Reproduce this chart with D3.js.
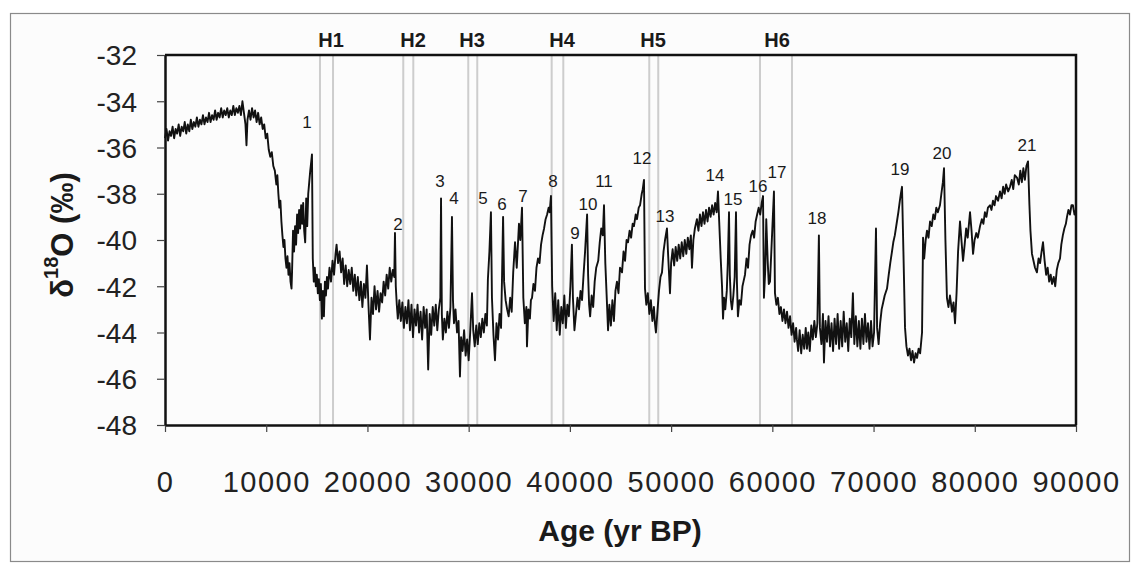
<!DOCTYPE html>
<html>
<head>
<meta charset="utf-8">
<script src="https://cdn.jsdelivr.net/npm/d3@7"></script>
<style>
  html, body { margin: 0; padding: 0; background: #ffffff; }
  svg { display: block; font-family: "Liberation Sans", Arial, sans-serif; }
</style>
</head>
<body>
<svg id="chart" width="1134" height="568"></svg>
<script>
// Axis ticks
const xTicks = [0, 10000, 20000, 30000, 40000, 50000, 60000, 70000, 80000, 90000];
const yTicks = [-32, -34, -36, -38, -40, -42, -44, -46, -48];

// Heinrich events: each drawn as a pair of grey lines (start / end age) and a label
const heinrichNames  = ["H1", "H2", "H3", "H4", "H5", "H6"];
const heinrichStart  = [15310, 23540, 29960, 38200, 47840, 58780];
const heinrichEnd    = [16600, 24530, 30850, 39350, 48730, 61940];
const heinrichLabelAge = [16400, 24500, 30330, 39220, 48210, 60460];

// Interstadial numbers and where they are written (age, δ18O)
const eventNames  = ["1","2","3","4","5","6","7","8","9","10","11","12","13","14","15","16","17","18","19","20","21"];
const eventAges   = [14030, 23020, 27170, 28550, 31410, 33290, 35370, 38330, 40500, 41790, 43370, 47120, 49400, 54330, 56110, 58580, 60460, 64410, 72610, 76760, 85160];
const eventValues = [-34.92, -39.32, -37.45, -38.19, -38.19, -38.45, -38.10, -37.45, -39.72, -38.45, -37.45, -36.49, -38.97, -37.23, -38.23, -37.67, -37.10, -39.06, -36.93, -36.27, -35.92];

// δ18O record: [age (yr BP), δ18O (‰)]
const isotopeRecord = [
  [0,-35.6],[150,-35.2],[300,-35.7],[450,-35.3],[600,-35.5],[750,-35.1],[900,-35.6],[1050,-35.2],[1200,-35.4],[1350,-35.0],
  [1500,-35.5],[1650,-35.1],[1800,-35.3],[1950,-34.9],[2100,-35.4],[2250,-35.0],[2400,-35.3],[2550,-34.8],[2700,-35.2],[2850,-34.9],
  [3000,-35.1],[3150,-34.7],[3300,-35.1],[3450,-34.8],[3600,-35.0],[3750,-34.6],[3900,-35.0],[4050,-34.7],[4200,-34.9],[4350,-34.5],
  [4500,-34.9],[4650,-34.6],[4800,-34.8],[4950,-34.4],[5100,-34.8],[5250,-34.5],[5400,-34.7],[5550,-34.3],[5700,-34.7],[5850,-34.4],
  [6000,-34.6],[6150,-34.3],[6300,-34.7],[6450,-34.4],[6600,-34.6],[6750,-34.2],[6900,-34.6],[7050,-34.3],[7200,-34.5],[7350,-34.2],
  [7500,-34.6],[7650,-34.0],[7800,-34.5],[7950,-35.0],[8050,-35.9],[8150,-34.8],[8300,-34.4],[8450,-34.8],[8600,-34.3],[8750,-34.7],
  [8900,-34.4],[9050,-34.9],[9200,-34.5],[9350,-35.0],[9500,-34.7],[9650,-35.2],[9800,-35.0],[9950,-35.6],[10100,-35.4],[10250,-36.1],
  [10400,-36.4],[10550,-36.2],[10700,-36.8],[10850,-37.0],[11000,-37.6],[11100,-37.2],[11200,-38.0],[11300,-38.6],[11400,-38.3],[11500,-39.2],
  [11600,-39.8],[11700,-40.3],[11800,-40.0],[11900,-40.8],[12000,-41.2],[12100,-40.7],[12200,-41.5],[12300,-41.0],[12400,-41.8],[12500,-42.1],
  [12550,-41.4],[12650,-39.6],[12750,-40.5],[12850,-39.4],[12950,-40.2],[13050,-38.9],[13150,-39.7],[13250,-38.7],[13350,-39.5],[13450,-38.5],
  [13550,-39.3],[13650,-38.4],[13750,-39.6],[13850,-40.1],[13950,-38.2],[14050,-39.4],[14150,-38.0],[14250,-37.5],[14350,-37.0],[14450,-36.6],
  [14520,-36.3],[14600,-40.8],[14700,-41.8],[14800,-41.2],[14900,-42.0],[15000,-41.5],[15100,-42.3],[15200,-41.7],[15300,-42.6],[15400,-41.9],
  [15500,-43.4],[15600,-42.2],[15700,-43.3],[15800,-41.8],[15900,-42.4],[16000,-41.6],[16100,-42.1],[16250,-41.2],[16400,-41.8],[16550,-40.9],
  [16700,-41.5],[16850,-40.6],[16950,-40.2],[17100,-41.0],[17250,-40.5],[17400,-41.4],[17550,-40.8],[17700,-41.9],[17850,-41.1],[18000,-42.0],
  [18150,-41.3],[18300,-41.9],[18450,-41.2],[18600,-42.2],[18750,-41.5],[18900,-42.4],[19050,-41.6],[19200,-42.6],[19350,-41.8],[19500,-42.9],
  [19650,-41.9],[19800,-42.5],[19950,-41.1],[20100,-42.8],[20250,-44.3],[20400,-42.5],[20550,-43.2],[20700,-42.0],[20850,-43.0],[21000,-42.2],
  [21150,-43.1],[21300,-42.3],[21450,-42.7],[21600,-41.8],[21750,-42.4],[21900,-41.5],[22050,-42.1],[22200,-41.2],[22350,-41.8],[22500,-41.3],
  [22650,-41.6],[22720,-39.7],[22800,-42.0],[22900,-42.8],[23000,-43.4],[23150,-42.6],[23300,-43.5],[23450,-42.7],[23600,-43.8],[23750,-42.9],
  [23900,-43.6],[24050,-42.6],[24200,-43.9],[24350,-42.8],[24500,-44.2],[24650,-43.0],[24800,-43.7],[24950,-42.8],[25100,-44.0],[25250,-43.1],
  [25400,-44.3],[25550,-42.9],[25700,-43.8],[25850,-43.0],[26000,-45.6],[26150,-43.2],[26300,-44.1],[26450,-42.9],[26600,-43.7],[26750,-42.8],
  [26900,-43.9],[27050,-43.0],[27200,-42.5],[27270,-38.2],[27350,-43.2],[27450,-44.3],[27600,-43.4],[27750,-44.0],[27900,-43.1],[28050,-43.8],
  [28200,-42.9],[28350,-39.0],[28450,-42.6],[28550,-43.6],[28700,-43.0],[28850,-44.0],[29000,-43.5],[29140,-45.9],[29250,-44.2],[29400,-44.8],
  [29550,-43.9],[29700,-45.0],[29850,-44.3],[30000,-45.2],[30150,-44.0],[30330,-42.3],[30450,-43.9],[30600,-44.6],[30750,-43.7],[30900,-44.5],
  [31050,-43.6],[31200,-44.2],[31350,-43.4],[31500,-44.0],[31650,-43.2],[31800,-43.7],[31900,-41.7],[32050,-40.5],[32200,-38.8],[32300,-42.5],
  [32450,-44.1],[32600,-45.2],[32750,-43.6],[32900,-44.3],[33050,-43.2],[33200,-43.8],[33300,-41.5],[33400,-39.0],[33500,-41.8],[33650,-42.6],
  [33800,-43.0],[33950,-43.3],[34100,-42.5],[34250,-43.1],[34400,-41.4],[34580,-40.1],[34750,-41.2],[34970,-39.3],[35100,-40.0],[35270,-38.6],
  [35400,-42.5],[35550,-43.6],[35700,-42.9],[35760,-44.6],[35900,-43.0],[36050,-43.4],[36150,-42.6],[36260,-42.5],[36400,-41.9],[36550,-42.2],
  [36700,-41.2],[36850,-40.8],[37000,-41.0],[37150,-40.2],[37300,-39.8],[37450,-39.5],[37600,-39.1],[37750,-38.9],[37900,-38.6],[38000,-38.8],
  [38130,-38.1],[38250,-42.0],[38400,-43.5],[38550,-42.3],[38700,-43.9],[38850,-42.6],[39000,-44.1],[39150,-42.9],[39300,-43.6],[39450,-42.4],
  [39600,-43.8],[39750,-42.8],[39900,-43.3],[40050,-42.0],[40200,-40.2],[40300,-42.5],[40450,-43.9],[40600,-43.2],[40750,-42.5],[40900,-43.0],
  [41050,-42.2],[41200,-42.6],[41350,-41.5],[41500,-40.5],[41700,-38.9],[41800,-41.5],[41900,-42.8],[42000,-43.3],[42150,-42.4],[42300,-42.9],
  [42450,-41.8],[42600,-41.2],[42800,-40.9],[42950,-40.1],[43100,-39.5],[43250,-39.8],[43370,-38.5],[43500,-41.0],[43650,-42.6],[43770,-43.9],
  [43900,-42.8],[44050,-43.7],[44200,-42.6],[44350,-43.5],[44500,-42.2],[44650,-41.8],[44800,-42.3],[44950,-41.2],[45150,-41.4],[45300,-40.5],
  [45450,-40.9],[45600,-40.0],[45740,-40.1],[45900,-39.6],[46050,-39.9],[46200,-39.3],[46330,-39.4],[46500,-38.9],[46630,-39.1],[46800,-38.6],
  [46930,-38.5],[47100,-38.0],[47200,-37.8],[47320,-37.4],[47420,-42.1],[47550,-42.8],[47700,-42.3],[47850,-43.2],[48000,-42.6],[48150,-43.5],
  [48300,-42.9],[48400,-43.6],[48500,-44.0],[48650,-43.1],[48800,-42.2],[48950,-41.6],[49100,-41.4],[49250,-40.5],[49400,-40.0],[49590,-39.5],
  [49700,-40.6],[49890,-42.3],[50000,-41.0],[50150,-40.4],[50300,-41.1],[50450,-40.3],[50600,-40.9],[50750,-40.2],[50900,-40.8],[51050,-40.1],
  [51200,-40.7],[51350,-40.0],[51500,-40.6],[51650,-39.9],[51800,-40.4],[51950,-39.8],[52060,-41.2],[52200,-40.0],[52350,-39.5],[52550,-39.1],
  [52700,-39.6],[52850,-38.9],[53000,-39.4],[53150,-38.8],[53300,-39.3],[53450,-38.7],[53600,-39.2],[53750,-38.6],[53900,-39.0],[54050,-38.5],
  [54200,-38.9],[54350,-38.4],[54500,-38.8],[54630,-37.9],[54750,-39.2],[54900,-40.8],[55030,-42.0],[55130,-43.4],[55230,-42.5],[55350,-43.0],
  [55500,-42.2],[55600,-41.0],[55720,-38.8],[55800,-41.5],[55900,-42.6],[56010,-43.0],[56150,-42.4],[56280,-41.6],[56410,-38.8],[56500,-41.8],
  [56600,-43.3],[56750,-42.6],[56900,-42.8],[57050,-42.0],[57150,-41.8],[57300,-41.5],[57450,-40.8],[57600,-41.2],[57750,-40.2],[57900,-39.8],
  [58050,-39.6],[58200,-39.9],[58350,-39.2],[58500,-38.9],[58650,-38.6],[58800,-38.9],[58950,-38.4],[59080,-38.1],[59170,-42.5],[59300,-41.3],
  [59400,-39.1],[59550,-41.0],[59650,-41.9],[59770,-41.8],[59900,-40.5],[60050,-39.0],[60160,-37.9],[60260,-42.3],[60400,-42.8],[60550,-42.5],
  [60700,-43.2],[60850,-42.9],[61000,-43.5],[61150,-43.0],[61300,-43.6],[61450,-43.1],[61600,-43.8],[61750,-43.3],[61900,-44.1],[62050,-43.6],
  [62200,-44.4],[62350,-43.8],[62430,-44.3],[62550,-44.8],[62700,-43.9],[62850,-44.9],[63000,-44.1],[63150,-44.7],[63300,-43.8],[63420,-44.7],
  [63550,-44.0],[63700,-44.8],[63850,-43.7],[64000,-44.3],[64150,-43.5],[64300,-44.2],[64450,-43.6],[64600,-39.8],[64700,-43.8],[64850,-44.5],
  [65000,-43.2],[65100,-45.3],[65250,-43.5],[65400,-44.4],[65550,-43.3],[65700,-44.6],[65850,-43.6],[66000,-44.8],[66150,-43.4],[66300,-44.5],
  [66450,-43.2],[66600,-44.7],[66750,-43.5],[66900,-44.6],[67050,-43.1],[67200,-44.4],[67350,-43.6],[67500,-44.8],[67650,-43.4],[67800,-44.2],
  [67960,-42.3],[68100,-44.5],[68250,-43.3],[68400,-44.6],[68550,-43.5],[68700,-44.7],[68850,-43.4],[69000,-44.5],[69150,-43.2],[69300,-44.4],
  [69450,-43.6],[69600,-44.7],[69750,-43.5],[69900,-44.6],[70050,-44.0],[70240,-39.5],[70350,-43.8],[70500,-44.5],[70650,-43.6],[70800,-43.0],
  [70950,-42.7],[71100,-42.4],[71330,-42.1],[71500,-41.5],[71650,-41.0],[71820,-40.5],[71950,-40.1],[72100,-39.8],[72310,-39.2],[72450,-38.8],
  [72600,-38.3],[72700,-38.0],[72810,-37.7],[72950,-40.5],[73110,-43.8],[73250,-44.6],[73400,-45.0],[73550,-44.7],[73700,-45.2],[73850,-44.8],
  [74000,-45.3],[74150,-44.9],[74300,-45.1],[74450,-44.7],[74600,-44.9],[74790,-44.0],[74890,-39.9],[75000,-40.8],[75150,-40.0],[75280,-39.6],
  [75430,-39.9],[75580,-39.2],[75750,-39.4],[75900,-38.9],[76050,-39.1],[76200,-38.6],[76350,-38.8],[76560,-38.5],[76700,-38.0],[76850,-37.5],
  [76960,-36.9],[77100,-40.0],[77250,-42.5],[77400,-42.9],[77550,-42.4],[77750,-43.1],[77900,-42.7],[78050,-43.6],[78200,-42.3],[78350,-40.5],
  [78540,-39.2],[78700,-40.1],[78840,-40.9],[79000,-40.2],[79150,-39.5],[79300,-39.9],[79530,-38.8],[79680,-39.6],[79830,-40.6],[79980,-40.0],
  [80150,-39.7],[80300,-39.9],[80520,-39.4],[80700,-39.1],[80850,-39.3],[81000,-38.8],[81150,-39.0],[81300,-38.6],[81500,-38.5],[81650,-38.7],
  [81800,-38.3],[81950,-38.5],[82100,-38.1],[82300,-38.3],[82490,-37.9],[82650,-38.2],[82800,-37.7],[82950,-38.0],[83100,-37.6],[83300,-37.9],
  [83480,-37.7],[83650,-37.4],[83800,-37.8],[83950,-37.2],[84170,-37.3],[84350,-37.6],[84500,-37.0],[84650,-37.5],[84800,-36.9],[84950,-37.4],
  [85100,-36.8],[85260,-36.6],[85400,-38.5],[85500,-39.6],[85650,-40.6],[85800,-40.9],[85950,-41.2],[86140,-41.4],[86300,-40.8],[86450,-41.0],
  [86600,-40.5],[86740,-40.1],[86900,-40.9],[87050,-41.5],[87200,-41.2],[87350,-41.8],[87500,-41.5],[87630,-41.9],[87800,-41.6],[87950,-42.0],
  [88100,-41.3],[88250,-41.0],[88420,-40.8],[88550,-40.2],[88700,-39.8],[88850,-39.5],[89000,-39.3],[89110,-39.0],[89250,-38.7],[89400,-38.9],
  [89550,-38.5],[89700,-38.5],[89850,-38.9],[90000,-38.7]
];

const svg = d3.select("#chart");
const plot = { left: 165, right: 1076, top: 55, bottom: 425 };

const x = d3.scaleLinear().domain([0, 90000]).range([plot.left, plot.right]);
const y = d3.scaleLinear().domain([-48, -32]).range([plot.bottom, plot.top]);

// chart area frame
svg.append("rect")
  .attr("x", 10.5).attr("y", 13.5)
  .attr("width", 1119).attr("height", 548)
  .attr("fill", "#fcfcfc")
  .attr("stroke", "#8a8a8a").attr("stroke-width", 1.2);

// Heinrich event lines
const hGroup = svg.append("g");
heinrichNames.forEach((name, i) => {
  [heinrichStart[i], heinrichEnd[i]].forEach(age => {
    hGroup.append("line")
      .attr("x1", x(age)).attr("x2", x(age))
      .attr("y1", plot.top).attr("y2", plot.bottom)
      .attr("stroke", "#cdcdcd").attr("stroke-width", 2);
  });
  hGroup.append("text")
    .attr("x", x(heinrichLabelAge[i]))
    .attr("y", plot.top - 15)
    .attr("text-anchor", "middle")
    .attr("dominant-baseline", "central")
    .attr("font-size", 20)
    .attr("font-weight", "bold")
    .attr("fill", "#1a1a1a")
    .text(name);
});

// δ18O curve
const line = d3.line().x(d => x(d[0])).y(d => y(d[1]));
svg.append("path")
  .datum(isotopeRecord)
  .attr("d", line)
  .attr("fill", "none")
  .attr("stroke", "#111")
  .attr("stroke-width", 1.9)
  .attr("stroke-linejoin", "round");

// interstadial numbers
svg.append("g").selectAll("text")
  .data(eventNames)
  .join("text")
  .attr("x", (d, i) => x(eventAges[i]))
  .attr("y", (d, i) => y(eventValues[i]))
  .attr("text-anchor", "middle")
  .attr("dominant-baseline", "central")
  .attr("font-size", 17)
  .attr("fill", "#1a1a1a")
  .text(d => d);

// plot frame (top and right edges)
svg.append("path")
  .attr("d", `M${plot.left},${plot.top}H${plot.right}V${plot.bottom}`)
  .attr("fill", "none").attr("stroke", "#111").attr("stroke-width", 2.5);

// axes
const xAxis = svg.append("g")
  .attr("transform", `translate(0,${plot.bottom})`)
  .call(d3.axisBottom(x).tickValues(xTicks).tickSize(7).tickSizeOuter(0).tickFormat(d => String(d)));
xAxis.select(".domain").attr("stroke", "#111").attr("stroke-width", 2.5);
xAxis.selectAll(".tick line").attr("stroke", "#444").attr("stroke-width", 1.2);
xAxis.selectAll(".tick text")
  .attr("y", 46).attr("dy", "0.71em")
  .attr("font-size", 29).attr("letter-spacing", "1.5px").attr("fill", "#222")
  .attr("font-family", "Liberation Sans, Arial, sans-serif");

const yAxis = svg.append("g")
  .attr("transform", `translate(${plot.left},0)`)
  .call(d3.axisLeft(y).tickValues(yTicks).tickSize(8).tickSizeOuter(0).tickFormat(d => String(d)));
yAxis.select(".domain").attr("stroke", "#111").attr("stroke-width", 2.5);
yAxis.selectAll(".tick line").attr("stroke", "#444").attr("stroke-width", 1.2);
yAxis.selectAll(".tick text")
  .attr("x", -28).attr("dy", "0.35em")
  .attr("font-size", 28).attr("fill", "#222")
  .attr("font-family", "Liberation Sans, Arial, sans-serif");

// axis titles
svg.append("text")
  .attr("x", 620)
  .attr("y", 530)
  .attr("text-anchor", "middle")
  .attr("dominant-baseline", "central")
  .attr("font-size", 30).attr("font-weight", "bold").attr("fill", "#1a1a1a")
  .text("Age (yr BP)");

const yTitle = svg.append("text")
  .attr("transform", `translate(62,235) rotate(-90)`)
  .attr("text-anchor", "middle")
  .attr("dominant-baseline", "central")
  .attr("font-size", 31).attr("font-weight", "bold").attr("fill", "#1a1a1a");
yTitle.append("tspan").text("δ");
yTitle.append("tspan").attr("font-size", 20).attr("dy", -11).text("18");
yTitle.append("tspan").attr("dy", 11).text("O (‰)");
</script>
</body>
</html>
